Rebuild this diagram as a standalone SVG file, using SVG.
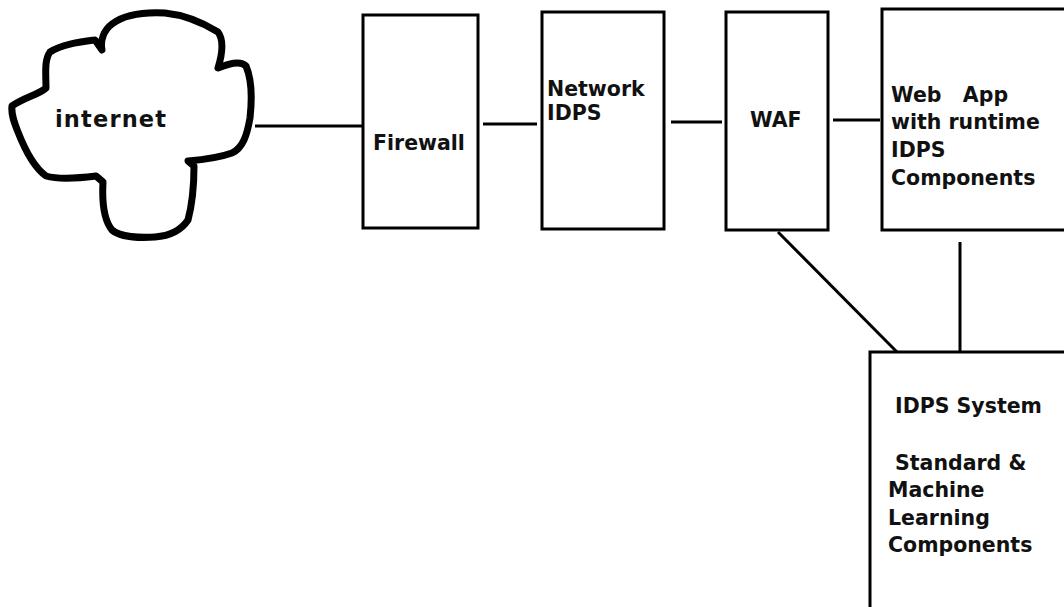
<svg xmlns="http://www.w3.org/2000/svg" width="1064" height="607" viewBox="0 0 1064 607">
<style>
.box{fill:#fff;stroke:#000;stroke-width:3}
.t{font-family:"DejaVu Sans",Verdana,sans-serif;font-weight:bold;font-size:20.5px;fill:#111}
.c{stroke:#000;stroke-width:3;fill:none}
</style>
<rect width="1064" height="607" fill="#fff"/>
<g id="internet">
<path d="M12,106 C25,97 38,95 46,88 C46,75 44,60 50,52 C62,44 80,42 95,40 L102,50 C100,40 104,30 112,24 C125,14 145,12 165,13 C185,15 205,24 218,32 C224,40 222,55 218,68 C228,64 240,60 246,66 C252,80 252,100 250,118 C247,135 243,148 232,153 C218,158 200,160 188,161 L194,166 C194,185 192,205 188,220 C180,232 168,236 155,237 C140,238 120,237 112,230 C104,220 102,200 103,182 L96,176 C80,178 60,180 46,176 C35,168 25,150 18,132 C14,122 11,114 12,106 Z" fill="#fff" stroke="#000" stroke-width="7" stroke-linejoin="round"/>
<text class="t" x="55" y="127" style="font-size:22.5px" textLength="111" lengthAdjust="spacing">internet</text>
</g>
<g id="firewall">
<rect class="box" x="363" y="15" width="115" height="213"/>
<text class="t" x="373" y="150">Firewall</text>
</g>
<g id="network-idps">
<rect class="box" x="542" y="12" width="122" height="217"/>
<text class="t" x="547" y="96">Network</text>
<text class="t" x="547" y="120">IDPS</text>
</g>
<g id="waf">
<rect class="box" x="726" y="12" width="102" height="218"/>
<text class="t" x="750" y="127">WAF</text>
</g>
<g id="webapp">
<rect class="box" x="882" y="9" width="200" height="221"/>
<text class="t" x="891" y="102" xml:space="preserve">Web   App</text>
<text class="t" x="891" y="129">with runtime</text>
<text class="t" x="891" y="157">IDPS</text>
<text class="t" x="891" y="185">Components</text>
</g>
<g id="idps-system">
<rect class="box" x="870" y="352" width="210" height="270"/>
<text class="t" x="895" y="413">IDPS System</text>
<text class="t" x="895" y="470">Standard &amp;</text>
<text class="t" x="888" y="497">Machine</text>
<text class="t" x="888" y="525">Learning</text>
<text class="t" x="888" y="552">Components</text>
</g>
<g id="connectors">
<line class="c" x1="255" y1="126" x2="363" y2="126"/>
<line class="c" x1="483" y1="124" x2="537" y2="124"/>
<line class="c" x1="671" y1="122" x2="722" y2="122"/>
<line class="c" x1="833" y1="120" x2="880" y2="120"/>
<line class="c" x1="778" y1="232" x2="897" y2="352"/>
<line class="c" x1="960" y1="242" x2="960" y2="352"/>
</g>
</svg>
